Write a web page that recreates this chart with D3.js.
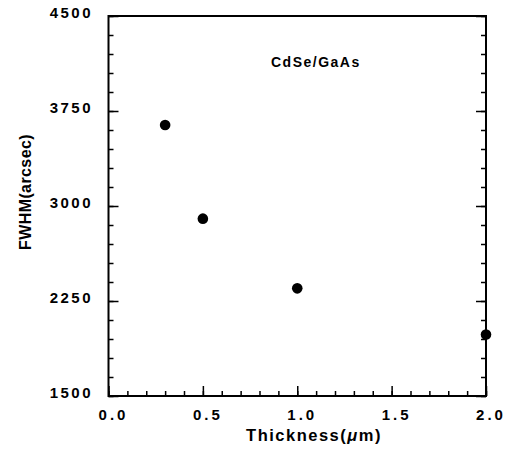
<!DOCTYPE html>
<html>
<head>
<meta charset="utf-8">
<script src="https://cdn.jsdelivr.net/npm/d3@7"></script>
<style>
  body { margin: 0; background: #fff; }
  svg { display: block; font-family: "Liberation Sans", Arial, sans-serif; font-weight: bold; }
</style>
</head>
<body>
<svg width="511" height="459"></svg>
<script>
// Data
const thickness = [0.3, 0.5, 1.0, 2.0];
const fwhm = [3640, 2900, 2350, 1985];
const xTicks = [0, 0.5, 1.0, 1.5, 2.0];
const yTicks = [1500, 2250, 3000, 3750, 4500];

const svg = d3.select('svg');
const margin = { left: 108.5, right: 25, top: 16, bottom: 63 };
const width = 511, height = 459;

// Scales
const x = d3.scaleLinear().domain([0, 2]).range([margin.left, width - margin.right]);
const y = d3.scaleLinear().domain([1500, 4500]).range([height - margin.bottom, margin.top]);

const xMinor = d3.range(0, 2.0001, 0.1);
const yMinor = d3.range(1500, 4500.1, 150);

// Draw one set of inward ticks in its own group
function ticks(axisFn, scale, values, size, transform) {
    const g = svg.append('g').attr('transform', transform);
    g.call(
        axisFn(scale)
            .tickValues(values)
            .tickSize(-size)
            .tickFormat(() => '')
    );
    g.select('path.domain').remove();
    g.selectAll('line').attr('stroke', '#000').attr('stroke-width', 1.5);
    return g;
}

ticks(d3.axisBottom, x, xMinor, 5, `translate(0,${y(1500)})`);
ticks(d3.axisBottom, x, xTicks, 10, `translate(0,${y(1500)})`);
ticks(d3.axisLeft, y, yMinor, 5, `translate(${x(0)},0)`);
ticks(d3.axisLeft, y, yTicks, 10, `translate(${x(0)},0)`);
ticks(d3.axisRight, y, yMinor, 5, `translate(${x(2)},0)`);
ticks(d3.axisRight, y, yTicks, 10, `translate(${x(2)},0)`);

// Frame
svg.append('rect')
    .attr('x', x(0)).attr('y', y(4500))
    .attr('width', x(2) - x(0)).attr('height', y(1500) - y(4500))
    .attr('fill', 'none').attr('stroke', '#000').attr('stroke-width', 2);

// Tick labels
svg.append('g').selectAll('text')
    .data(xTicks)
    .enter()
    .append('text')
    .attr('x', (d) => x(d) + 5)
    .attr('y', 420)
    .attr('text-anchor', 'middle')
    .attr('font-size', 15)
    .attr('letter-spacing', 3)
    .text((d) => d.toFixed(1));

svg.append('g').selectAll('text')
    .data(yTicks)
    .enter()
    .append('text')
    .attr('x', 93)
    .attr('y', (d) => y(d) + 1.5)
    .attr('text-anchor', 'end')
    .attr('font-size', 15)
    .attr('letter-spacing', 2.5)
    .text((d) => d);

// Axis titles
const xTitle = svg.append('text')
    .attr('x', 314)
    .attr('y', 441)
    .attr('text-anchor', 'middle')
    .attr('font-size', 16.5)
    .attr('letter-spacing', 1.5);
xTitle.append('tspan').text('Thickness(');
xTitle.append('tspan').attr('font-style', 'italic').text('μ');
xTitle.append('tspan').text('m)');

svg.append('text')
    .attr('transform', 'translate(31,192) rotate(-90)')
    .attr('text-anchor', 'middle')
    .attr('font-size', 16)
    .attr('letter-spacing', 0.4)
    .text('FWHM(arcsec)');

// Annotation
svg.append('text')
    .attr('x', 271)
    .attr('y', 67)
    .attr('font-size', 14)
    .attr('letter-spacing', 1.5)
    .text('CdSe/GaAs');

// Points
svg.append('g').selectAll('circle')
    .data(thickness)
    .enter()
    .append('circle')
    .attr('cx', (d) => x(d))
    .attr('cy', (d, i) => y(fwhm[i]))
    .attr('r', 5.3)
    .attr('fill', '#000');
</script>
</body>
</html>
